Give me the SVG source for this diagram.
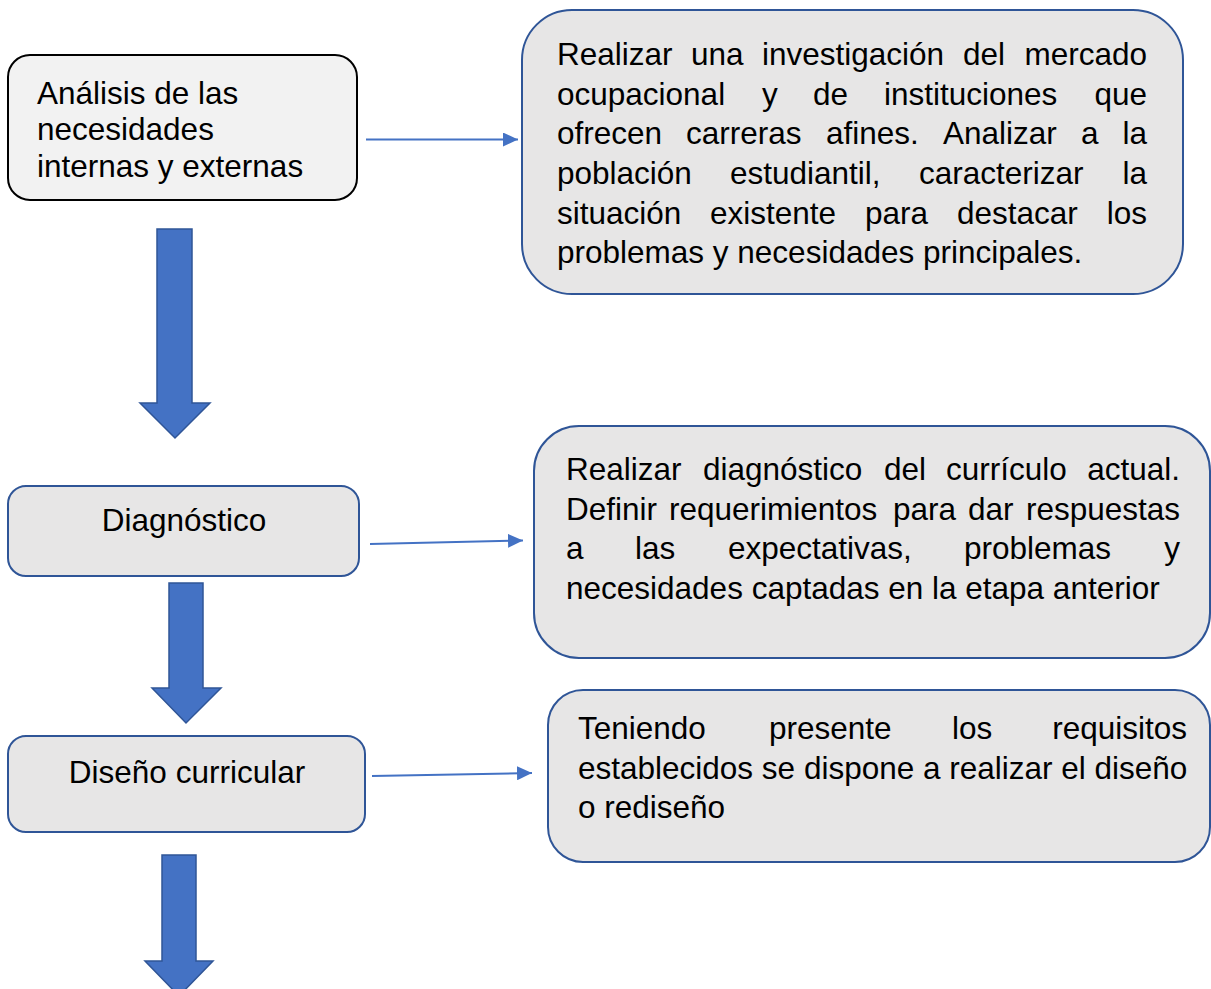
<svg xmlns="http://www.w3.org/2000/svg" width="1211" height="989" viewBox="0 0 1211 989">
<style>
text{font-family:"Liberation Sans",Arial,sans-serif;font-size:31.5px;fill:#000}
.box{fill:#e7e6e6;stroke:#2f5597;stroke-width:2}
.box0{fill:#f2f2f2;stroke:#000;stroke-width:2}
.blk{fill:#4472c4;stroke:#2f5597;stroke-width:1.5}
.con{stroke:#4472c4;stroke-width:2;fill:none}
</style>
<defs>
<marker id="ah" markerUnits="userSpaceOnUse" markerWidth="16" markerHeight="14" refX="15" refY="7" orient="auto">
<path d="M0,0 L15,7 L0,14 z" fill="#4472c4"/>
</marker>
</defs>
<rect width="1211" height="989" fill="#fff"/>
<g id="n1">
<rect class="box0" x="8" y="55" width="349" height="145" rx="22"/>
<text x="37" y="104">Análisis de las</text>
<text x="37" y="140">necesidades</text>
<text x="37" y="177">internas y externas</text>
</g>
<g id="n2">
<rect class="box" x="8" y="486" width="351" height="90" rx="18"/>
<text x="184" y="531" text-anchor="middle">Diagnóstico</text>
</g>
<g id="n3">
<rect class="box" x="8" y="736" width="357" height="96" rx="18"/>
<text x="187" y="783" text-anchor="middle">Diseño curricular</text>
</g>
<g id="r1">
<rect class="box" x="522" y="10" width="661" height="284" rx="50"/>
<text y="65"><tspan x="557">Realizar</tspan><tspan x="691">una</tspan><tspan x="762">investigación</tspan><tspan x="963">del</tspan><tspan x="1147" text-anchor="end">mercado</tspan></text>
<text y="104.5"><tspan x="557">ocupacional</tspan><tspan x="762">y</tspan><tspan x="813">de</tspan><tspan x="884">instituciones</tspan><tspan x="1147" text-anchor="end">que</tspan></text>
<text y="144"><tspan x="557">ofrecen</tspan><tspan x="686">carreras</tspan><tspan x="826">afines.</tspan><tspan x="943">Analizar</tspan><tspan x="1081">a</tspan><tspan x="1147" text-anchor="end">la</tspan></text>
<text y="184"><tspan x="557">población</tspan><tspan x="730">estudiantil,</tspan><tspan x="919">caracterizar</tspan><tspan x="1147" text-anchor="end">la</tspan></text>
<text y="223.5"><tspan x="557">situación</tspan><tspan x="710">existente</tspan><tspan x="865">para</tspan><tspan x="957">destacar</tspan><tspan x="1147" text-anchor="end">los</tspan></text>
<text x="557" y="263">problemas y necesidades principales.</text>
</g>
<g id="r2">
<rect class="box" x="534" y="426" width="676" height="232" rx="45"/>
<text y="480"><tspan x="566">Realizar</tspan><tspan x="703">diagnóstico</tspan><tspan x="884">del</tspan><tspan x="946">currículo</tspan><tspan x="1180" text-anchor="end">actual.</tspan></text>
<text y="519.5"><tspan x="566">Definir</tspan><tspan x="669">requerimientos</tspan><tspan x="893">para</tspan><tspan x="968">dar</tspan><tspan x="1180" text-anchor="end">respuestas</tspan></text>
<text y="559"><tspan x="566">a</tspan><tspan x="635">las</tspan><tspan x="728">expectativas,</tspan><tspan x="964">problemas</tspan><tspan x="1180" text-anchor="end">y</tspan></text>
<text x="566" y="598.5">necesidades captadas en la etapa anterior</text>
</g>
<g id="r3">
<rect class="box" x="548" y="690" width="662" height="172" rx="35"/>
<text y="739"><tspan x="578">Teniendo</tspan><tspan x="769">presente</tspan><tspan x="952">los</tspan><tspan x="1187" text-anchor="end">requisitos</tspan></text>
<text x="578" y="778.5">establecidos se dispone a realizar el diseño</text>
<text x="578" y="818">o rediseño</text>
</g>
<g id="connectors">
<polygon class="blk" points="157,229 192,229 192,403 210,403 175,438 140,403 157,403"/>
<polygon class="blk" points="169,583 203,583 203,688 221,688 186,723 152,688 169,688"/>
<polygon class="blk" points="162,855 196,855 196,961 213,961 179,996 145,961 162,961"/>
<line class="con" x1="366" y1="139.5" x2="518" y2="139.5" marker-end="url(#ah)"/>
<line class="con" x1="370" y1="544" x2="523" y2="540.5" marker-end="url(#ah)"/>
<line class="con" x1="372" y1="776" x2="532" y2="773" marker-end="url(#ah)"/>
</g>
</svg>
